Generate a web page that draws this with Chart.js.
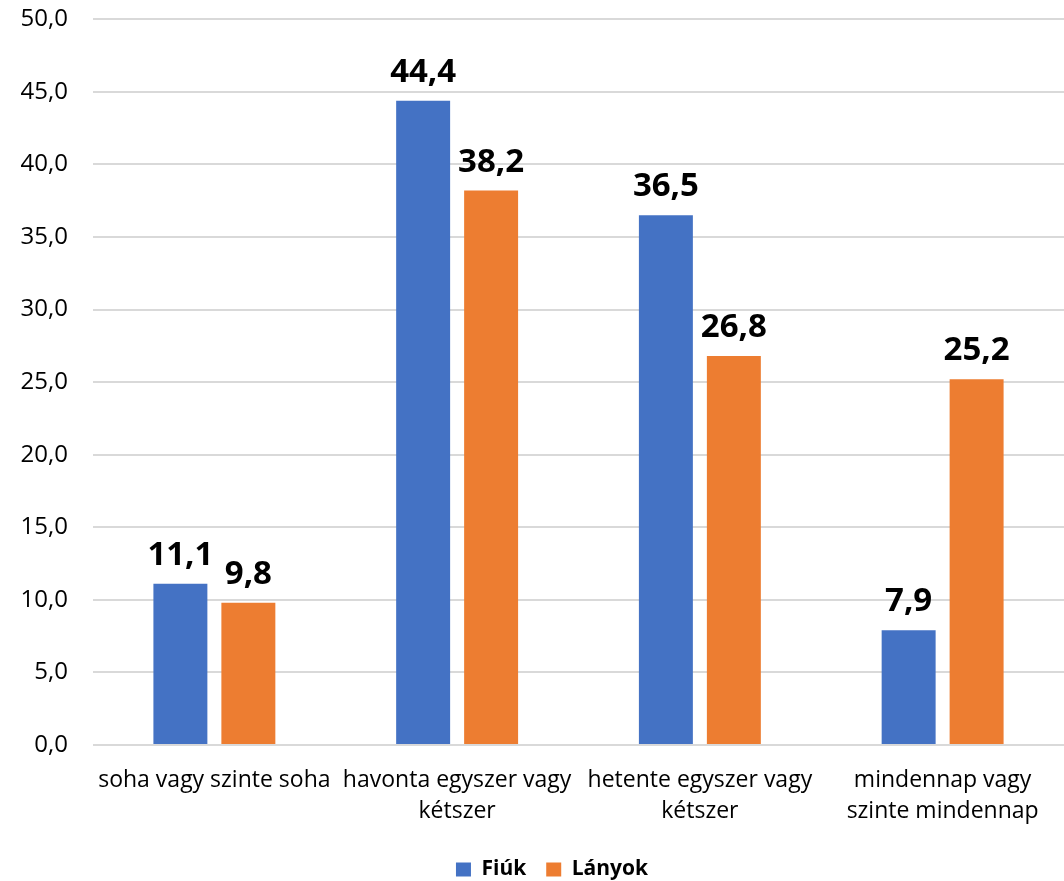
<!DOCTYPE html>
<html><head><meta charset="utf-8">
<script src="https://cdn.jsdelivr.net/npm/chart.js@4/dist/chart.umd.min.js"></script>
<style>html,body{margin:0;padding:0;background:#fff;overflow:hidden}#wrap{width:1064px;height:881px;overflow:hidden}#c{display:block;margin-top:-20px}</style>
</head><body><div id="wrap"><canvas id="c" width="1064" height="910"></canvas></div>
<script>
const categories = [["soha vagy szinte soha"],["havonta egyszer vagy","kétszer"],["hetente egyszer vagy","kétszer"],["mindennap vagy","szinte mindennap"]];
const fiuk = [11.1, 44.4, 36.5, 7.9];
const lanyok = [9.8, 38.2, 26.8, 25.2];
const seriesNames = ["Fiúk","Lányok"];
const FONT = "'Open Sans', 'Noto Sans', sans-serif";
const fmt = v => v.toFixed(1).replace('.', ',');

const labelPlugin = {
  id: 'vals',
  afterLayout(chart){
    if (chart.legend) { chart.legend.left += 20; chart.legend.right += 20; }
  },
  afterDatasetsDraw(chart){
    const ctx = chart.ctx;
    ctx.save();
    ctx.font = "bold 33px " + FONT;
    ctx.fillStyle = '#000';
    ctx.textAlign = 'center';
    ctx.textBaseline = 'alphabetic';
    chart.data.datasets.forEach((ds, i) => {
      chart.getDatasetMeta(i).data.forEach((bar, j) => {
        ctx.fillText(fmt(ds.data[j]), bar.x, bar.y - 19);
      });
    });
    ctx.restore();
  }
};

new Chart(document.getElementById('c'), {
  type: 'bar',
  data: {
    labels: categories,
    datasets: [
      {label: seriesNames[0], data: fiuk, backgroundColor: '#4472C4'},
      {label: seriesNames[1], data: lanyok, backgroundColor: '#ED7D31'}
    ]
  },
  options: {
    responsive: false,
    animation: false,
    devicePixelRatio: 1,
    categoryPercentage: 0.56,
    barPercentage: 0.794,
    layout: {padding: {top: 0, right: 0, left: 0, bottom: 0}},
    scales: {
      y: {
        min: 0, max: 50,
        afterFit: s => { s.width = 93; },
        ticks: {stepSize: 5, color: '#000', font: {size: 24, family: FONT}, padding: 25, callback: v => fmt(v)},
        grid: {color: '#D9D9D9', lineWidth: 2, drawTicks: false},
        border: {display: false}
      },
      x: {
        ticks: {color: '#000', font: {size: 23, family: FONT, lineHeight: 1.35}, padding: 12, maxRotation: 0, autoSkip: false},
        grid: {display: false},
        border: {display: false}
      }
    },
    plugins: {
      legend: {
        position: 'bottom',
        labels: {color: '#000', font: {size: 21, weight: 'bold', family: FONT}, boxWidth: 15, boxHeight: 14, padding: 20}
      },
      tooltip: {enabled: false}
    }
  },
  plugins: [labelPlugin]
});
</script></body></html>
